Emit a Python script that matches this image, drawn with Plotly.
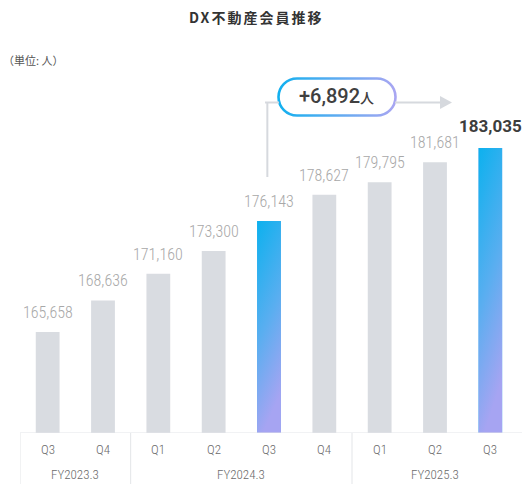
import base64
import plotly.graph_objects as go

# ---- data ----
fiscal_years = ["FY2023.3", "FY2023.3", "FY2024.3", "FY2024.3", "FY2024.3", "FY2024.3",
                "FY2025.3", "FY2025.3", "FY2025.3"]
quarters = ["Q3", "Q4", "Q1", "Q2", "Q3", "Q4", "Q1", "Q2", "Q3"]
members = [165658, 168636, 171160, 173300, 176143, 178627, 179795, 181681, 183035]
highlight = [False, False, False, False, True, False, False, False, True]
increase_text = "+6,892"
title_text = "DX不動産会員推移"
unit_text = "（単位: 人）"

# ---- layout geometry ----
W, H = 522, 484
ML, MR, MT, MB = 20, 4, 90, 51
Y_MIN, Y_MAX = 156121, 188510
BAR_W = 0.43
GREY = "#d9dce1"
LINE = "#d6d9de"
TABLE = "#e3e5e8"
NUM_FONT = "Liberation Sans Narrow, Roboto Condensed, Roboto, sans-serif"


def px(x):
    return (x - ML) / (W - ML - MR)


def py(y):
    return (H - MB - y) / (H - MT - MB)


def svg_uri(svg):
    return "data:image/svg+xml;base64," + base64.b64encode(svg.encode()).decode()


bar_svg = ('<svg xmlns="http://www.w3.org/2000/svg" width="100" height="100" viewBox="0 0 100 100" '
           'preserveAspectRatio="none"><defs><linearGradient id="g" x1="0" y1="0" x2="0.25" y2="1">'
           '<stop offset="0" stop-color="#0cb1ee"/><stop offset="0.55" stop-color="#5aaef0"/>'
           '<stop offset="1" stop-color="#a6a4f2"/></linearGradient></defs>'
           '<rect x="0" y="0" width="100" height="100" fill="url(#g)"/></svg>')

pill_x, pill_y, pill_w, pill_h = 277, 77, 120, 40
pill_svg = (f'<svg xmlns="http://www.w3.org/2000/svg" width="{pill_w}" height="{pill_h}" '
            f'viewBox="0 0 {pill_w} {pill_h}"><defs><linearGradient id="p" x1="0" y1="0" x2="1" y2="0">'
            '<stop offset="0" stop-color="#12b0ef"/><stop offset="1" stop-color="#a9a6f2"/>'
            '</linearGradient></defs>'
            f'<rect x="1.5" y="1.5" width="{pill_w-3}" height="{pill_h-3}" rx="{(pill_h-3)/2}" '
            f'ry="{(pill_h-3)/2}" fill="#ffffff" stroke="url(#p)" stroke-width="2.6"/></svg>')

n = len(members)
positions = list(range(n))
colors = ["#5aaef0" if h else GREY for h in highlight]

fig = go.Figure()
fig.add_trace(go.Bar(
    x=positions, y=members, width=BAR_W,
    marker=dict(color=colors, line=dict(width=0)),
    hoverinfo="skip", showlegend=False,
))

images, annotations, shapes = [], [], []
last = n - 1
for i, v in enumerate(members):
    if highlight[i]:
        images.append(dict(source=svg_uri(bar_svg), xref="x", yref="y",
                           x=i - BAR_W / 2, y=v, sizex=BAR_W, sizey=v - Y_MIN,
                           xanchor="left", yanchor="top", sizing="stretch", layer="above"))
    is_last = i == last
    annotations.append(dict(
        x=i, y=v, xref="x", yref="y", text=f"{v:,}", showarrow=False,
        yanchor="bottom", yshift=8 if not is_last else 10,
        font=dict(family="Roboto, sans-serif" if is_last else NUM_FONT,
                  size=17 if is_last else 16,
                  color="#3d3d3d" if is_last else "#a8a8a8",
                  weight="bold" if is_last else 300),
    ))

# ---- category table below the bars ----
shapes.append(dict(type="line", xref="paper", yref="y", x0=0, x1=px(W + 2),
                   y0=Y_MIN, y1=Y_MIN, line=dict(color=TABLE, width=1)))
group_start = 0
for i in range(n + 1):
    if i == n or fiscal_years[i] != fiscal_years[group_start]:
        annotations.append(dict(
            x=(group_start + i - 1) / 2, y=py(475), xref="x", yref="paper",
            text=fiscal_years[group_start], showarrow=False, yanchor="middle",
            font=dict(family=NUM_FONT, size=13, color="#6a6a6a", weight=300)))
        group_start = i
    if i == 0 or (i < n and fiscal_years[i] != fiscal_years[i - 1]):
        shapes.append(dict(type="line", xref="x", yref="paper", x0=i - 0.5, x1=i - 0.5,
                           y0=0, y1=py(H + 2), line=dict(color=TABLE, width=1)))
for i, q in enumerate(quarters):
    annotations.append(dict(x=i, y=py(450), xref="x", yref="paper", text=q,
                            showarrow=False, yanchor="middle",
                            font=dict(family=NUM_FONT, size=13, color="#6a6a6a", weight=300)))

# ---- connector from highlighted bar to pill and arrow ----
line_y = py(102.5)
hi = highlight.index(True)
shapes.append(dict(type="line", xref="x", yref="paper", x0=hi - 0.03, x1=hi - 0.03,
                   y0=py(177), y1=line_y, line=dict(color=LINE, width=2)))
shapes.append(dict(type="line", xref="paper", yref="paper", x0=px(265), x1=px(pill_x + 2),
                   y0=line_y, y1=line_y, line=dict(color=LINE, width=2)))
shapes.append(dict(type="line", xref="paper", yref="paper", x0=px(pill_x + pill_w - 2),
                   x1=px(441), y0=line_y, y1=line_y, line=dict(color=LINE, width=2)))
shapes.append(dict(type="path", xref="paper", yref="paper",
                   path=f"M {px(440)},{py(96)} L {px(452)},{py(102.5)} L {px(440)},{py(109)} Z",
                   fillcolor=LINE, line=dict(width=0)))

images.append(dict(source=svg_uri(pill_svg), xref="paper", yref="paper",
                   x=px(pill_x), y=py(pill_y), sizex=px(pill_x + pill_w) - px(pill_x),
                   sizey=py(pill_y) - py(pill_y + pill_h),
                   xanchor="left", yanchor="top", sizing="stretch", layer="above"))
annotations.append(dict(
    x=px(336), y=py(96), xref="paper", yref="paper", showarrow=False,
    text=f"{increase_text}<span style='font-size:14px'>人</span>",
    font=dict(family="Roboto, Noto Sans CJK JP, sans-serif", size=20, color="#404040",
              weight=500),
    xanchor="center", yanchor="middle",
))

annotations.append(dict(
    x=px(256), y=py(17), xref="paper", yref="paper", showarrow=False,
    text=f"<span style='letter-spacing:2px'>{title_text}</span>",
    font=dict(family="Noto Sans CJK JP, sans-serif", size=14, color="#333333", weight="bold"),
    xanchor="center", yanchor="middle",
))
annotations.append(dict(
    x=px(1), y=py(60), xref="paper", yref="paper", showarrow=False, text=unit_text,
    font=dict(family="Noto Sans CJK JP, sans-serif", size=11, color="#555555"),
    xanchor="left", yanchor="middle",
))

fig.update_layout(
    width=W, height=H,
    margin=dict(l=ML, r=MR, t=MT, b=MB),
    paper_bgcolor="white", plot_bgcolor="white",
    xaxis=dict(range=[-0.5, 8.5], visible=False, showgrid=False, zeroline=False,
               automargin=False),
    yaxis=dict(range=[Y_MIN, Y_MAX], visible=False, showgrid=False, zeroline=False,
               automargin=False),
    images=images, shapes=shapes, annotations=annotations,
)

fig.write_html("out.html", config={"displayModeBar": False},
               post_script="document.body.style.margin='0';")
